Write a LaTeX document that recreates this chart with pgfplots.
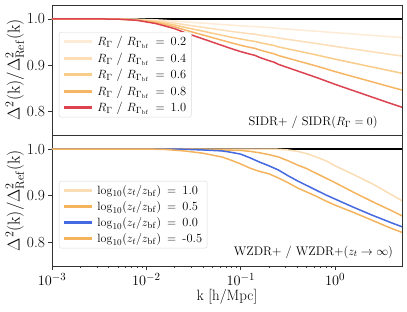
\documentclass[border=0pt]{standalone}
\usepackage{pgfplots}
\pgfplotsset{compat=1.18}
\usepackage{pgfplotstable}

\definecolor{cA}{HTML}{FDEBD5}
\definecolor{cB}{HTML}{FCDDB5}
\definecolor{cC}{HTML}{F9CC8A}
\definecolor{cD}{HTML}{F6B665}
\definecolor{cE}{HTML}{DC4350}
\definecolor{wA}{HTML}{FBDDB5}
\definecolor{wB}{HTML}{F4B45E}
\definecolor{wC}{HTML}{4469E0}
\definecolor{wD}{HTML}{F4B45E}

\pgfplotstableread{
k        r02     r04     r06     r08     r10
0.001    1.0000  1.0000  1.0000  1.0000  1.0000
0.003162 1.0000  1.0000  1.0000  1.0000  1.0000
0.005012 0.9999  0.9998  0.9997  0.9996  0.9995
0.007943 0.9994  0.9987  0.9982  0.9976  0.9970
0.01259  0.9980  0.9958  0.9938  0.9920  0.9900
0.01995  0.9956  0.9912  0.9871  0.9831  0.9790
0.02512  0.9940  0.9878  0.9822  0.9767  0.9710
0.03162  0.9924  0.9849  0.9779  0.9710  0.9640
0.05012  0.9895  0.9790  0.9692  0.9597  0.9500
0.07943  0.9866  0.9731  0.9606  0.9485  0.9360
0.1      0.9853  0.9705  0.9567  0.9432  0.9295
0.1259   0.9840  0.9680  0.9530  0.9385  0.9240
0.1413   0.9836  0.9671  0.9516  0.9366  0.9215
0.1585   0.9826  0.9651  0.9490  0.9332  0.9170
0.1995   0.9812  0.9622  0.9447  0.9275  0.9100
0.2239   0.9805  0.9610  0.9430  0.9250  0.9070
0.2512   0.9794  0.9588  0.9397  0.9211  0.9020
0.3981   0.9765  0.9530  0.9311  0.9098  0.8880
0.631    0.9735  0.9471  0.9225  0.8986  0.8740
1        0.9704  0.9408  0.9133  0.8865  0.8590
1.585    0.9674  0.9349  0.9047  0.8752  0.8450
2.512    0.9645  0.9290  0.8961  0.8640  0.8310
3.981    0.9616  0.9231  0.8875  0.8527  0.8170
5.248    0.9599  0.9198  0.8825  0.8462  0.8090
}\sidr

\pgfplotstableread{
k        z10     z05     z00     zm05
0.001    1.000   1.000   1.000   1.000
0.01     1.000   1.000   1.000   1.000
0.01585  1.000   1.000   1.000   0.999
0.02512  1.000   0.9998  0.9995  0.996
0.03981  1.000   0.9993  0.998   0.991
0.0631   1.000   0.998   0.996   0.983
0.07943  1.000   0.9975  0.993   0.976
0.1      1.000   0.997   0.989   0.968
0.1259   1.000   0.995   0.981   0.959
0.1585   1.000   0.992   0.972   0.952
0.1995   1.000   0.988   0.964   0.947
0.2512   0.9995  0.983   0.955   0.938
0.3162   0.998   0.975   0.943   0.928
0.3981   0.995   0.966   0.932   0.917
0.5012   0.990   0.958   0.922   0.908
0.631    0.983   0.948   0.912   0.899
0.7943   0.975   0.938   0.902   0.889
1        0.964   0.928   0.893   0.880
1.585    0.945   0.907   0.875   0.864
2.512    0.925   0.887   0.858   0.847
3.981    0.902   0.868   0.842   0.830
5.248    0.888   0.856   0.833   0.821
}\wzdr

\begin{document}
\begin{tikzpicture}
\path[use as bounding box] (0bp,0bp) rectangle (407bp,-312bp);

\begin{axis}[at={(52bp,-5bp)}, anchor=north west, height=130bp,
  scale only axis, width=350bp, xmode=log, xmin=0.001, xmax=5.1,
  ymin=0.75, ymax=1.03,
  ytick={0.8,0.9,1.0}, yticklabels={0.8,0.9,1.0},
  axis line style={black!80, line width=0.8bp},
  tick style={black!80, line width=0.7bp},
  major tick length=3.5bp, minor tick length=2bp,
  tick align=outside, ytick pos=left, xtick pos=bottom,
  ticklabel style={font=\fontsize{15.5}{18}\selectfont},
  ylabel={$\Delta^2(\mathrm{k})/\Delta^2_{\mathrm{Ref}}(\mathrm{k})$},
  ylabel style={font=\fontsize{18.5}{22}\selectfont, at={(axis description cs:-0.106,0.5)}, anchor=center},
  legend cell align=left,
  legend image code/.code={\draw[#1, line width=2.8bp] (0bp,0bp) -- (28bp,0bp);},
  xtick=\empty,
  legend style={at={(rel axis cs:0.02,0.792)}, anchor=north west,
    draw=black!15, rounded corners=2bp, fill=white, column sep=2.5bp,
    font=\fontsize{12.5}{14}\selectfont, row sep=1.7bp, inner xsep=3bp, inner ysep=2bp}]
\addplot[black, line width=1.5bp, forget plot] coordinates {(0.0005,1) (10,1)};
\addplot[cA, line width=1.5bp] table[x=k,y=r02] {\sidr};
\addlegendentry{$R_\Gamma$ / $R_{\Gamma_{\mathrm{bf}}}$ \,$=$\, 0.2}
\addplot[cB, line width=1.5bp] table[x=k,y=r04] {\sidr};
\addlegendentry{$R_\Gamma$ / $R_{\Gamma_{\mathrm{bf}}}$ \,$=$\, 0.4}
\addplot[cC, line width=1.5bp] table[x=k,y=r06] {\sidr};
\addlegendentry{$R_\Gamma$ / $R_{\Gamma_{\mathrm{bf}}}$ \,$=$\, 0.6}
\addplot[cD, line width=1.5bp] table[x=k,y=r08] {\sidr};
\addlegendentry{$R_\Gamma$ / $R_{\Gamma_{\mathrm{bf}}}$ \,$=$\, 0.8}
\addplot[cE, line width=1.5bp] table[x=k,y=r10] {\sidr};
\addlegendentry{$R_\Gamma$ / $R_{\Gamma_{\mathrm{bf}}}$ \,$=$\, 1.0}
\node[font=\fontsize{12.5}{15}\selectfont] at (rel axis cs:0.746,0.10) {SIDR+ / SIDR($R_\Gamma = 0$)};
\end{axis}

\begin{axis}[at={(52bp,-135bp)}, anchor=north west, height=131bp,
  scale only axis, width=350bp, xmode=log, xmin=0.001, xmax=5.1,
  ymin=0.75, ymax=1.03,
  ytick={0.8,0.9,1.0}, yticklabels={0.8,0.9,1.0},
  axis line style={black!80, line width=0.8bp},
  tick style={black!80, line width=0.7bp},
  major tick length=3.5bp, minor tick length=2bp,
  tick align=outside, ytick pos=left, xtick pos=bottom,
  ticklabel style={font=\fontsize{15.5}{18}\selectfont},
  ylabel={$\Delta^2(\mathrm{k})/\Delta^2_{\mathrm{Ref}}(\mathrm{k})$},
  ylabel style={font=\fontsize{18.5}{22}\selectfont, at={(axis description cs:-0.106,0.5)}, anchor=center},
  legend cell align=left,
  legend image code/.code={\draw[#1, line width=2.8bp] (0bp,0bp) -- (28bp,0bp);},
  xtick={0.001,0.01,0.1,1},
  xlabel={k [h/Mpc]},
  xlabel style={font=\fontsize{15}{18}\selectfont, at={(axis description cs:0.5,-0.237)}, anchor=center},
  legend style={at={(rel axis cs:0.02,0.649)}, anchor=north west,
    draw=black!15, rounded corners=2bp, fill=white, column sep=2.5bp,
    font=\fontsize{12.5}{14}\selectfont, row sep=1.7bp, inner xsep=3bp, inner ysep=2bp}]
\addplot[black, line width=1.5bp, forget plot] coordinates {(0.0005,1) (10,1)};
\addplot[wA, line width=1.5bp] table[x=k,y=z10] {\wzdr};
\addlegendentry{$\log_{10}(z_t/z_{\mathrm{bf}})$ \,$=$\, 1.0}
\addplot[wB, line width=1.5bp] table[x=k,y=z05] {\wzdr};
\addlegendentry{$\log_{10}(z_t/z_{\mathrm{bf}})$ \,$=$\, 0.5}
\addplot[wC, line width=1.5bp] table[x=k,y=z00] {\wzdr};
\addlegendentry{$\log_{10}(z_t/z_{\mathrm{bf}})$ \,$=$\, 0.0}
\addplot[wD, line width=1.5bp] table[x=k,y=zm05] {\wzdr};
\addlegendentry{$\log_{10}(z_t/z_{\mathrm{bf}})$ \,$=$\, -0.5}
\node[font=\fontsize{12.5}{15}\selectfont] at (rel axis cs:0.747,0.107) {WZDR+ / WZDR+($z_t \to \infty$)};
\end{axis}
\end{tikzpicture}
\end{document}
